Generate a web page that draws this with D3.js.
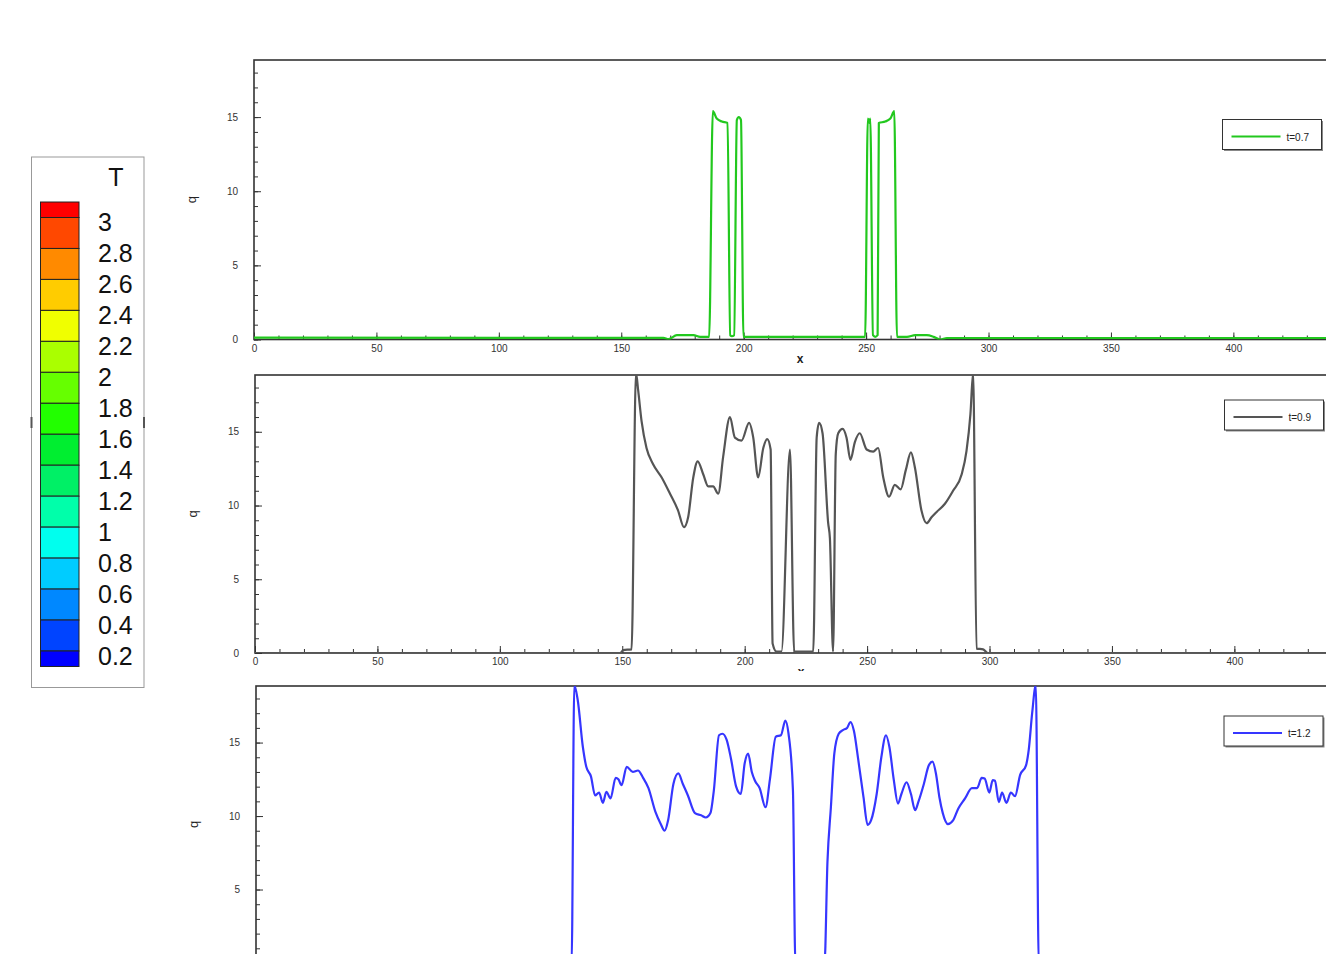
<!DOCTYPE html>
<html>
<head>
<meta charset="utf-8">
<script src="https://cdn.jsdelivr.net/npm/d3@7"></script>
<style>
   body { margin: 0; background: #fff; overflow: hidden; }
   svg { display: block; font-family: 'Liberation Sans', Arial, sans-serif; }
   .axis text { font-size: 10px; fill: #333; }
   .axis line { stroke: #333; stroke-width: 1; }
</style>
</head>
<body>
<svg id="chart" width="1326" height="954"></svg>
<script>
// q(x)
const xT07 = [0, 167.2, 169.3, 172.7, 179.5, 182.2, 185.9, 187.4, 189.0, 191.1, 193.4, 194.5, 195.2, 196.1, 197.2, 198.0, 198.9, 199.9,
   249.6, 250.7, 251.3, 251.7, 252.8, 253.7, 254.7, 255.2, 257.8, 259.9, 261.5, 262.6, 266.7, 270.1, 274.8, 277.6, 280.3, 283, 446];
const qT07 = [0.12, 0.11, 0.02, 0.29, 0.29, 0.18, 0.18, 15.4, 14.9, 14.7, 14.6, 0.29, 0.22, 0.29, 14.8, 15.0, 14.8, 0.18,
   0.18, 14.9, 14.6, 14.9, 0.29, 0.18, 0.29, 14.6, 14.7, 14.9, 15.4, 0.18, 0.18, 0.29, 0.29, 0.18, 0.0, 0.1, 0.1];

const xT09 = [0, 146, 149, 150.4, 153.8, 155.6, 156.5, 157.9, 159.9, 162.6, 166.1, 169.5, 172.8, 175.2, 176.9, 179, 180.8, 183.1,
   185.1, 187.1, 189.2, 191.2, 194, 196, 198.7, 201.8, 203.5, 205.5, 207.6, 209.2, 210.6, 211.4, 213, 215, 218.5, 220.2, 228,
   229.4, 230.4, 231.8, 234.1, 234.8, 236.1, 237.2, 238.2, 240, 241.6, 243.2, 245, 247, 249.8, 252.5, 254.5, 256.6, 259, 261.3,
   263.7, 265.8, 267.9, 269.5, 272.2, 274.3, 276.3, 278.3, 281.7, 285.1, 288.6, 290.6, 292.2, 293.3, 294.7, 297.4, 299.4, 446];
const qT09 = [0, 0, -0.05, 0.2, 0.25, 19, 17.8, 15.7, 13.9, 12.8, 11.9, 10.8, 9.66, 8.53, 9.2, 11.9, 13.0, 12.1,
   11.3, 11.3, 10.8, 13.3, 16.0, 14.6, 14.4, 15.6, 14.6, 11.9, 13.9, 14.5, 13.8, 0.65, 0.1, 0.1, 13.8, 0.1, 0.1,
   14.6, 15.6, 14.9, 8.8, 7.8, 0.1, 13.5, 14.9, 15.2, 14.6, 13.1, 14.3, 14.9, 13.8, 13.65, 13.9, 11.9, 10.6, 11.4,
   11.1, 12.4, 13.6, 12.6, 9.66, 8.8, 9.2, 9.55, 10.1, 11.0, 12.1, 13.7, 16.2, 19, 0.3, 0.25, 0, 0];

const xT12 = [0, 128.9, 130.0, 131.4, 133.5, 134.9, 136.8, 138.5, 140.1, 141.7, 143.1, 144.8, 146.9, 148.0, 149.3, 151.4,
   153.9, 156.0, 158.1, 160.3, 163.1, 165.2, 166.9, 168.3, 170.5, 172.5, 174.3, 176.4, 179.3, 181.8, 183.7, 185.6, 187.0,
   189.1, 190.5, 192.2, 194.0, 196.1, 198.0, 199.6, 201.0, 202.5, 203.8, 205.7, 208.1, 209.9, 212.3, 214.4, 216.2, 217.5,
   219.3, 220.3, 232.2, 233.4, 234.8, 236.2, 238.0, 239.7, 241.4, 242.8, 244.2, 246.0, 248.1, 249.8, 251.2, 253.5, 255.4,
   257.3, 258.7, 260.5, 262.2, 263.6, 265.7, 267.5, 269.2, 270.6, 272.8, 274.8, 276.3, 277.7, 279.1, 280.5, 282.6, 284.7,
   286.8, 289.6, 292.4, 294.5, 296.4, 297.6, 299.5, 300.9, 301.8, 303.4, 304.7, 306.5, 308.3, 310.0, 312.1, 314.5, 315.6,
   317.0, 318.5, 319.7, 446];
const qT12 = [0, 0, 18.9, 17.9, 14.7, 13.35, 12.7, 11.4, 11.6, 10.9, 11.65, 11.2, 12.6, 12.5, 12.1, 13.35,
   13.0, 13.1, 12.6, 11.9, 10.3, 9.5, 9.0, 9.7, 12.2, 12.9, 12.2, 11.4, 10.2, 10.05, 9.9, 10.2, 11.75,
   15.5, 15.6, 15.2, 13.9, 12.0, 11.5, 13.6, 14.25, 13.0, 12.4, 11.9, 10.6, 12.5, 15.4, 15.5, 16.5, 15.6,
   11.75, 0, 0, 6.9, 10.6, 14.25, 15.6, 15.85, 16.0, 16.4, 15.8, 13.8, 11.3, 9.4, 9.7, 11.5, 14.0,
   15.5, 14.7, 12.45, 10.85, 11.5, 12.3, 11.5, 10.4, 11.0, 12.2, 13.45, 13.7, 12.9, 11.3, 10.2, 9.45, 9.7,
   10.5, 11.2, 11.9, 11.9, 12.6, 12.55, 11.6, 12.45, 12.4, 10.95, 11.6, 10.9, 11.6, 11.35, 12.8, 13.45, 14.5,
   17.0, 18.9, 0, 0];

const seriesLabels = ['t=0.7', 't=0.9', 't=1.2'];
const seriesColors = ['#22c81e', '#555555', '#3636ff'];

const xDomain = [0, 446];
const yDomain = [0, 18.85];
const xMajorTicks = [0, 50, 100, 150, 200, 250, 300, 350, 400];
const xMinorTicks = [0, 10, 20, 30, 40, 50, 60, 70, 80, 90, 100, 110, 120, 130, 140, 150, 160, 170, 180, 190, 200, 210,
   220, 230, 240, 250, 260, 270, 280, 290, 300, 310, 320, 330, 340, 350, 360, 370, 380, 390, 400, 410, 420, 430, 440];
const yMajorTicks = [0, 5, 10, 15];
const yMinorTicks = [0, 1, 2, 3, 4, 5, 6, 7, 8, 9, 10, 11, 12, 13, 14, 15, 16, 17, 18];

// contour legend for T (top to bottom)
const tLevels = [3, 2.8, 2.6, 2.4, 2.2, 2, 1.8, 1.6, 1.4, 1.2, 1, 0.8, 0.6, 0.4, 0.2];
const tEdges = [3.1, ...tLevels, 0.1];
const tColors = ['#ff0000', '#ff4800', '#ff8a00', '#ffcc00', '#f0ff00', '#aaff00', '#66ff00', '#22ff00',
   '#00ee30', '#00f066', '#00ffaa', '#00ffee', '#00ccff', '#0088ff', '#0044ff', '#0000ff'];

const pageHeight = 954;

class LinePanel {
   constructor(_config, _data) {
      this.config = {
         svg: _config.svg,
         id: _config.id,
         left: _config.left,
         top: _config.top,
         bottom: _config.bottom,
         width: _config.width || 1092,
         bgPad: _config.bgPad,
         legendDx: _config.legendDx,
         legendDy: _config.legendDy,
         color: _config.color,
         label: _config.label,
      };
      this.data = _data;
      this.initVis();
   }

   initVis() {
      const c = this.config;
      this.width = c.width;
      this.height = c.bottom - c.top;

      // white backdrop so this frame covers whatever sits behind it
      c.svg.append('rect')
         .attr('x', 160)
         .attr('y', c.top - c.bgPad)
         .attr('width', 1326 - 160)
         .attr('height', this.height + c.bgPad + 40)
         .attr('fill', '#fff');

      this.chart = c.svg.append('g')
         .attr('transform', `translate(${c.left},${c.top})`);

      this.chart.append('defs')
         .append('clipPath')
         .attr('id', `clip-${c.id}`)
         .append('rect')
         .attr('width', this.width)
         .attr('height', this.height);

      this.xScale = d3.scaleLinear().domain(xDomain).range([0, this.width]);
      this.yScale = d3.scaleLinear().domain(yDomain).range([this.height, 0]);

      // the lowest frame runs past the bottom of the page: skip labels that would be cut
      const xLabelsFit = c.bottom + 20 < pageHeight;

      this.chart.append('g')
         .attr('class', 'axis x-minor')
         .attr('transform', `translate(0,${this.height})`)
         .call(d3.axisBottom(this.xScale).tickValues(xMinorTicks).tickSize(-4).tickSizeOuter(0).tickFormat(''))
         .call(g => g.select('.domain').remove());

      this.chart.append('g')
         .attr('class', 'axis x-axis')
         .attr('transform', `translate(0,${this.height})`)
         .call(d3.axisBottom(this.xScale).tickValues(xMajorTicks).tickSize(-7).tickSizeOuter(0).tickPadding(5)
            .tickFormat(xLabelsFit ? null : ''))
         .call(g => g.select('.domain').remove());

      this.chart.append('g')
         .attr('class', 'axis y-minor')
         .call(d3.axisLeft(this.yScale).tickValues(yMinorTicks).tickSize(-4).tickSizeOuter(0).tickFormat(''))
         .call(g => g.select('.domain').remove());

      this.chart.append('g')
         .attr('class', 'axis y-axis')
         .call(d3.axisLeft(this.yScale).tickValues(yMajorTicks).tickSize(-7).tickSizeOuter(0).tickPadding(16))
         .call(g => g.select('.domain').remove())
         .call(g => g.selectAll('.tick text')
            .filter(d => c.top + this.yScale(d) + 6 > pageHeight)
            .remove());

      this.chart.append('rect')
         .attr('class', 'frame')
         .attr('width', this.width)
         .attr('height', this.height)
         .attr('fill', 'none')
         .attr('stroke', '#333')
         .attr('stroke-width', 1.6);

      if (xLabelsFit) {
         this.chart.append('text')
            .attr('x', this.width / 2)
            .attr('y', this.height + 23)
            .attr('text-anchor', 'middle')
            .attr('font-size', '12px')
            .attr('font-weight', 'bold')
            .attr('fill', '#222')
            .text('x');
      }

      this.chart.append('text')
         .attr('transform', `translate(-58,${this.height / 2}) rotate(-90)`)
         .attr('text-anchor', 'middle')
         .attr('font-size', '13px')
         .attr('fill', '#222')
         .text('q');

      this.line = d3.line()
         .x(d => this.xScale(d[0]))
         .y(d => this.yScale(d[1]))
         .curve(d3.curveMonotoneX);

      this.chart.append('g')
         .attr('clip-path', `url(#clip-${c.id})`)
         .append('path')
         .datum(this.data)
         .attr('fill', 'none')
         .attr('stroke', c.color)
         .attr('stroke-width', 2.2)
         .attr('stroke-linejoin', 'round')
         .attr('d', this.line);

      this.drawLegend();
   }

   drawLegend() {
      const c = this.config;
      const lg = this.chart.append('g')
         .attr('transform', `translate(${c.legendDx},${c.legendDy})`);
      lg.append('rect')
         .attr('x', 1.5).attr('y', 1.5)
         .attr('width', 99).attr('height', 30)
         .attr('fill', '#888');
      lg.append('rect')
         .attr('width', 99).attr('height', 30)
         .attr('fill', '#fff')
         .attr('stroke', '#333')
         .attr('stroke-width', 1);
      lg.append('line')
         .attr('x1', 9).attr('x2', 58)
         .attr('y1', 17).attr('y2', 17)
         .attr('stroke', c.color)
         .attr('stroke-width', 2);
      lg.append('text')
         .attr('x', 64).attr('y', 21)
         .attr('font-size', '10px')
         .attr('fill', '#222')
         .text(c.label);
   }
}

function drawColorbar(svg) {
   const yT = d3.scaleLinear().domain([0.2, 3]).range([651, 217.5]);
   const g = svg.append('g').attr('class', 'colorbar');

   g.append('rect')
      .attr('x', 31.5).attr('y', 157)
      .attr('width', 112.5).attr('height', 530.5)
      .attr('fill', '#fff')
      .attr('stroke', '#999')
      .attr('stroke-width', 1);

   // little grab marks on the frame sides
   [31.5, 144].forEach(x => {
      g.append('line')
         .attr('x1', x).attr('x2', x)
         .attr('y1', 417).attr('y2', 428)
         .attr('stroke', '#555')
         .attr('stroke-width', 2);
   });

   g.append('text')
      .attr('x', 116).attr('y', 186)
      .attr('text-anchor', 'middle')
      .attr('font-size', '25px')
      .attr('fill', '#111')
      .text('T');

   const bands = tColors.map((col, i) => ({ hi: tEdges[i], lo: tEdges[i + 1], col }));
   g.selectAll('.band')
      .data(bands)
      .join('rect')
      .attr('class', 'band')
      .attr('x', 40.5)
      .attr('width', 38.5)
      .attr('y', d => yT(d.hi))
      .attr('height', d => yT(d.lo) - yT(d.hi))
      .attr('fill', d => d.col)
      .attr('stroke', '#222')
      .attr('stroke-width', 1);

   g.selectAll('.tlabel')
      .data(tLevels)
      .join('text')
      .attr('class', 'tlabel')
      .attr('x', 98)
      .attr('y', d => yT(d) + 13.5)
      .attr('font-size', '25px')
      .attr('fill', '#111')
      .text(d => d);
}

const svg = d3.select('#chart');

drawColorbar(svg);

new LinePanel({
   svg, id: 'p07', left: 254, top: 60, bottom: 339.5, bgPad: 0,
   legendDx: 968.5, legendDy: 59.5, color: seriesColors[0], label: seriesLabels[0],
}, d3.zip(xT07, qT07));

new LinePanel({
   svg, id: 'p09', left: 255, top: 375, bottom: 653, bgPad: 9,
   legendDx: 969.5, legendDy: 25, color: seriesColors[1], label: seriesLabels[1],
}, d3.zip(xT09, qT09));

new LinePanel({
   svg, id: 'p12', left: 256, top: 686, bottom: 963, bgPad: 15,
   legendDx: 968, legendDy: 30, color: seriesColors[2], label: seriesLabels[2],
}, d3.zip(xT12, qT12));
</script>
</body>
</html>
